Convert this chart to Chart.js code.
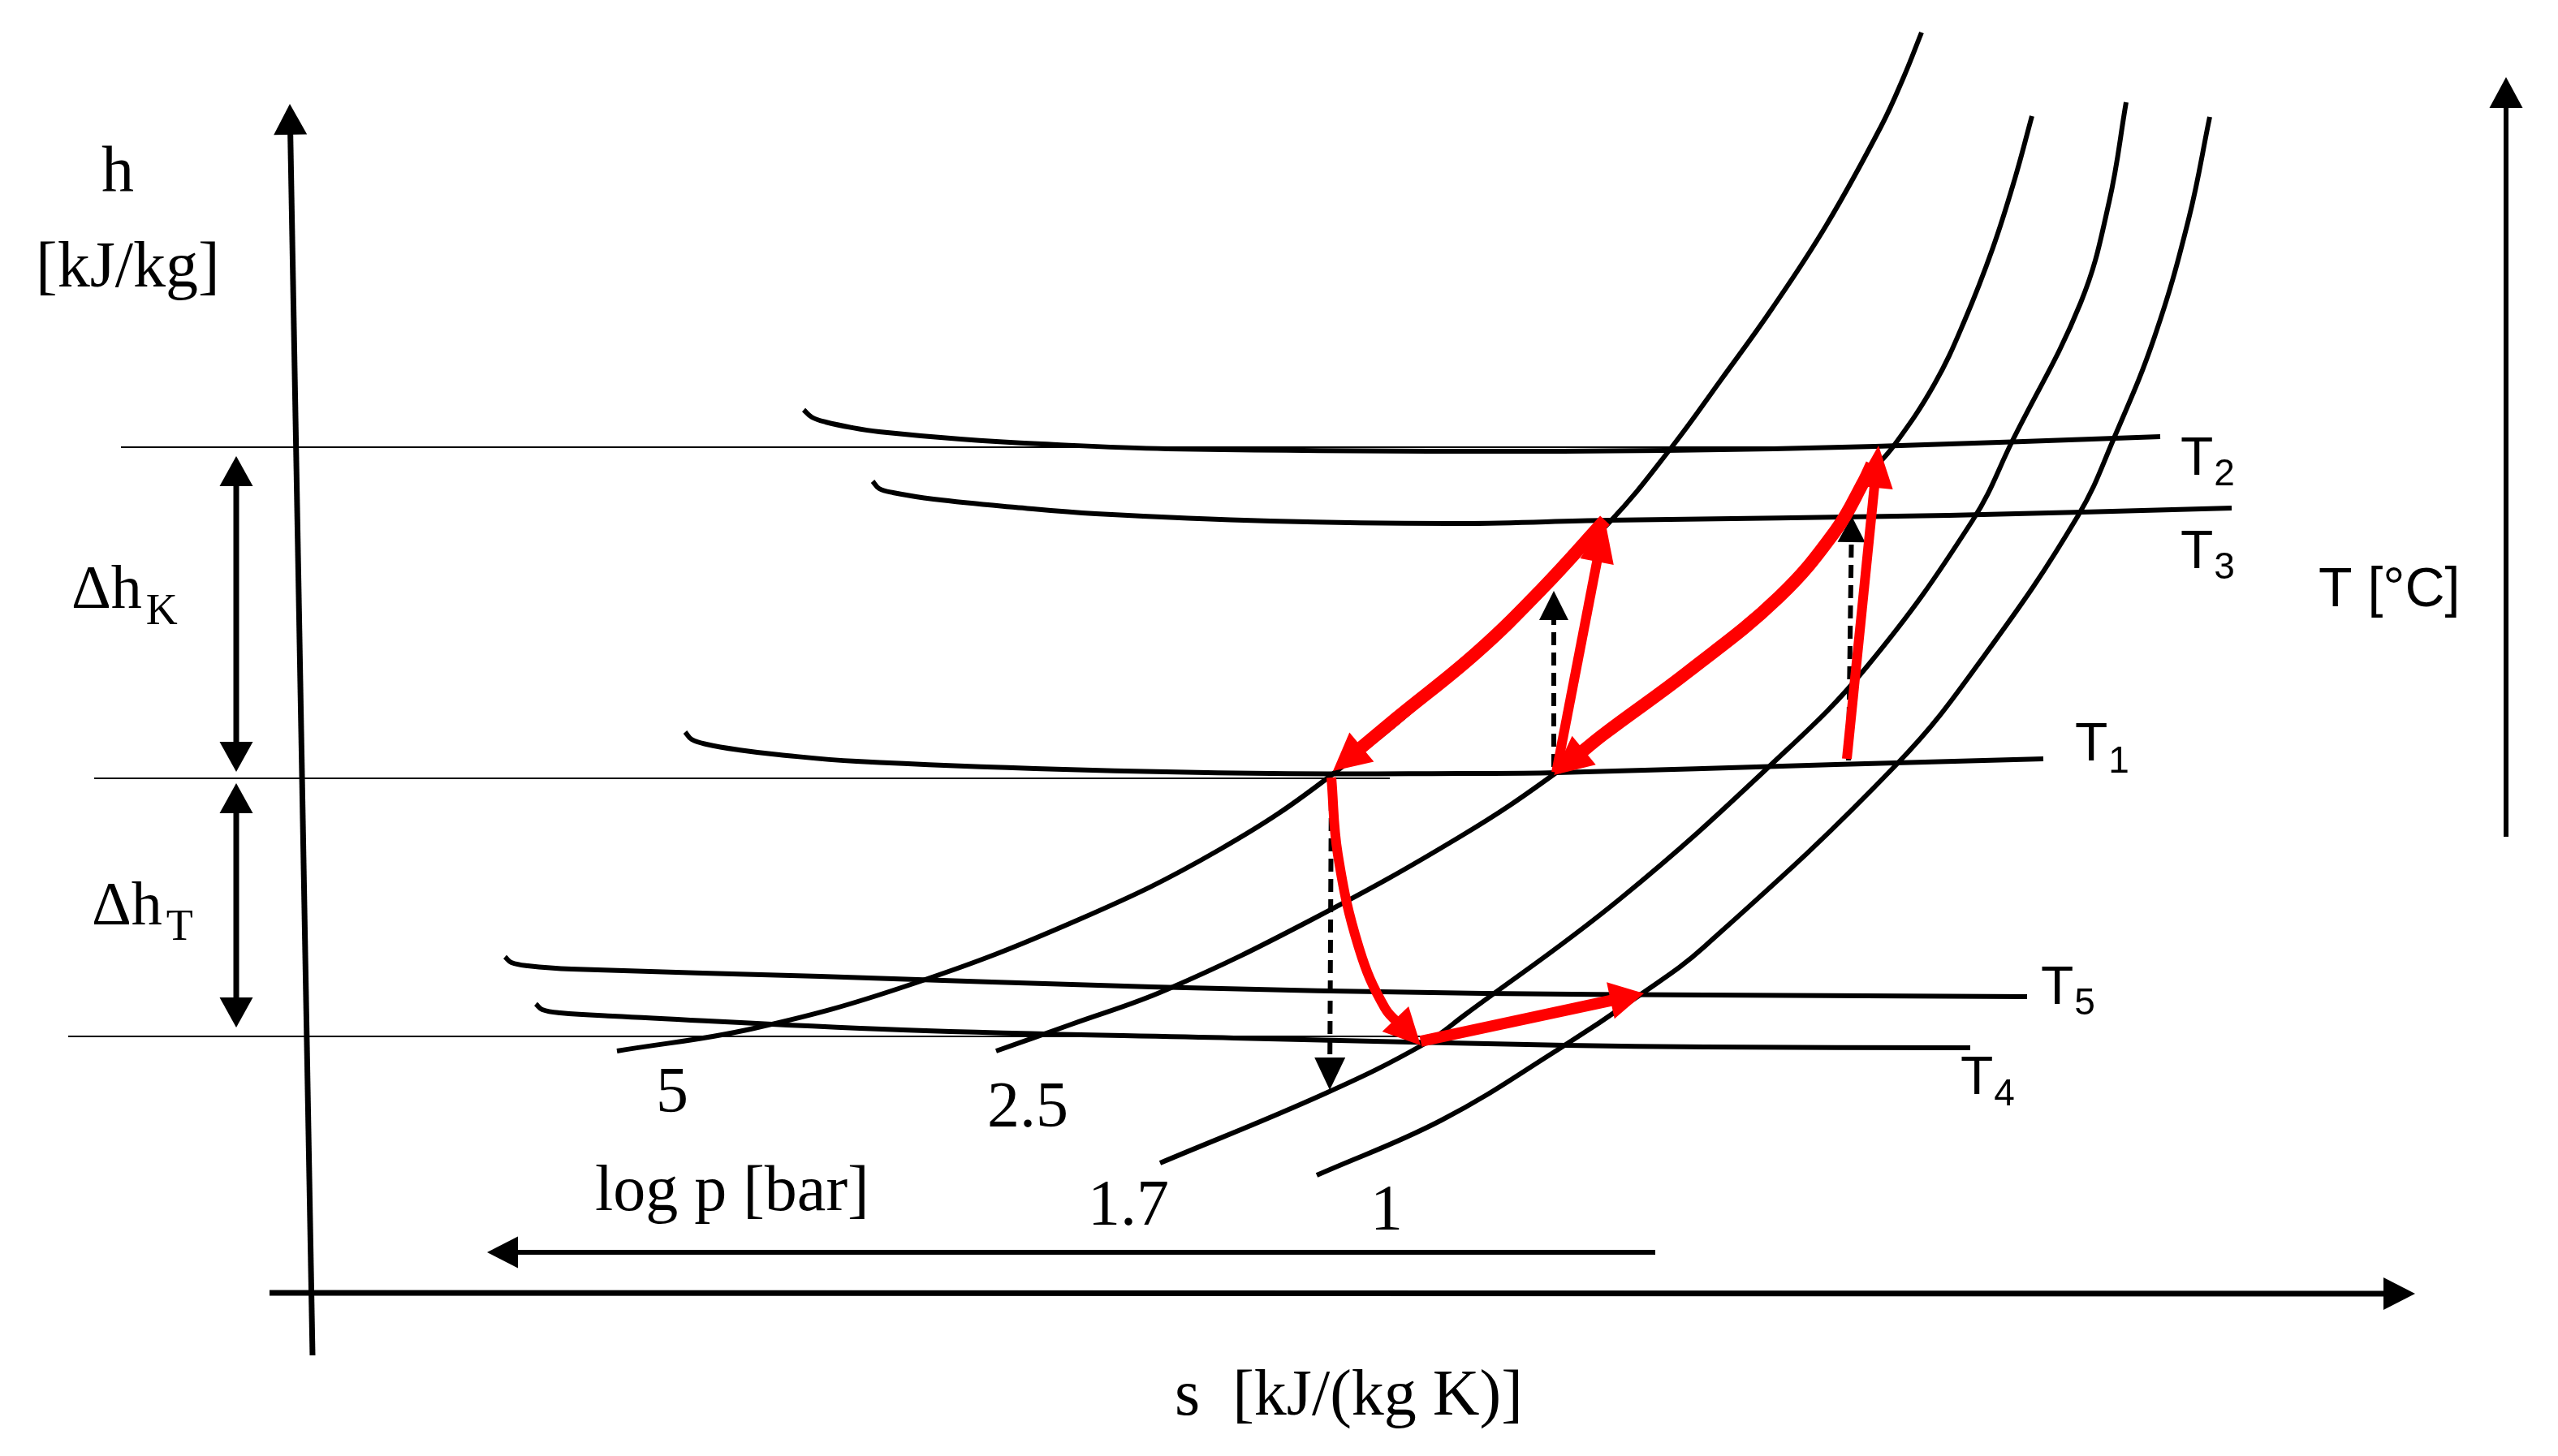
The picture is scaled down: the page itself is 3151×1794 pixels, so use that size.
<!DOCTYPE html>
<html>
<head>
<meta charset="utf-8">
<script src="https://cdn.jsdelivr.net/npm/chart.js@4.4.1/dist/chart.umd.min.js"></script>
<style>
    html, body { margin: 0; padding: 0; background: #fff; overflow: hidden; }
    canvas { display: block; }
</style>
</head>
<body>
<canvas id="hsChart" width="3151" height="1794"></canvas>
<script>
// DIAGRAM DATA - sketch units, s to the right, h counted downwards

// isotherms T1..T5
const isoT2 = [[990, 505], [1000, 514], [1017, 520], [1050, 527], [1083, 532], [1183, 541], [1283, 547], [1438, 553], [1800, 556], [2051, 555], [2310, 550], [2661, 538]];
const isoT3 = [[1075, 593], [1083, 602], [1100, 607], [1150, 615], [1250, 625], [1350, 633], [1565, 642], [1800, 645], [1981, 641], [2401, 635], [2749, 626]];
const isoT1 = [[844, 902], [852, 911], [870, 917], [910, 924], [960, 930], [1055, 938], [1310, 948], [1565, 953], [1800, 953], [1917, 952], [2261, 942], [2517, 935]];
const isoT5 = [[622, 1179], [630, 1186], [650, 1190], [704, 1194], [1010, 1203], [1418, 1216], [1827, 1224], [2100, 1226], [2497, 1228]];
const isoT4 = [[660, 1237], [668, 1244], [690, 1248], [755, 1252], [1112, 1269], [1520, 1279], [1929, 1288], [2100, 1290], [2427, 1291]];

// isobars 5 / 2.5 / 1.7 / 1 bar
const isobar5 = [[760, 1295], [929, 1267], [1119, 1214], [1329, 1133], [1502, 1047], [1644, 952], [1819, 804], [1983, 643], [2060, 550], [2120, 468], [2183, 380], [2250, 277], [2317, 156], [2345, 95], [2367, 40]];
const isobar25 = [[1227, 1295], [1320, 1262], [1438, 1219], [1616, 1133], [1800, 1030], [1917, 952], [2079, 828], [2191, 736], [2261, 654], [2296, 593], [2333, 549], [2383, 473], [2420, 395], [2455, 305], [2482, 220], [2503, 143]];
const isobar17 = [[1429, 1433], [1633, 1347], [1755, 1286], [1805, 1250], [1995, 1108], [2184, 940], [2300, 821], [2430, 641], [2479, 543], [2563, 373], [2598, 249], [2619, 126]];
const isobar1 = [[1622, 1448], [1776, 1380], [1918, 1294], [2020, 1226], [2100, 1166], [2338, 940], [2445, 807], [2560, 635], [2604, 540], [2654, 415], [2696, 270], [2722, 144]];

// enthalpy levels (thin lines)
const hLevel2 = [[149, 551], [2320, 551]];
const hLevel1 = [[116, 959], [1712, 959]];
const hLevel4 = [[84, 1277], [1750, 1277]];

// cycle steps (red)
const stepUp1 = [[2275, 935], [2314, 549]];
const stepDown1 = [[2306, 572], [2296, 593], [2261, 654], [2191, 736], [2079, 828], [1975, 905], [1914, 955]];
const stepUp2 = [[1917, 952], [1977, 641]];
const stepDown2 = [[1977, 641], [1900, 725], [1819, 804], [1720, 885], [1642, 950]];
const stepExpand = [[1640, 958], [1648, 1053], [1674, 1168], [1706, 1242], [1750, 1288]];
const stepHeat = [[1750, 1283], [2025, 1224]];

// dashed isentropes
const dashA = [[1914, 945], [1914, 728]];
const dashB = [[2277, 937], [2281, 636]];
const dashC = [[1640, 958], [1638, 1343]];

// axes and dimension arrows
const hAxis = [[385, 1670], [357, 128]];
const sAxis = [[332, 1593], [2975, 1594]];
const tAxis = [[3087, 1031], [3087, 95]];
const pAxis = [[2039, 1543], [600, 1543]];
const dimK = [[291, 562], [291, 951]];
const dimT = [[291, 965], [291, 1266]];

// texts
const isothermSubs = ['2', '3', '1', '5', '4'];
const isobarLabels = ['5', '2.5', '1.7', '1'];
const deltaSubs = ['K', 'T'];
const axisTitles = ['h', '[kJ/kg]', 's  [kJ/(kg K)]', 'log p [bar]', 'T [°C]'];

// STYLES
const INK = '#000000';
const RED = '#ff0000';
const SERIF = '"Liberation Serif", "Times New Roman", serif';
const SANS = '"Liberation Sans", Arial, sans-serif';

// HELPER FUNCTIONS

/**
 * moves point a back towards b by dist
 */
function pullBack(a, b, dist) {
    const dx = a[0] - b[0], dy = a[1] - b[1];
    const d = Math.hypot(dx, dy) || 1;
    return {x: a[0] - dx / d * dist, y: a[1] - dy / d * dist};
}

/**
 * builds one line dataset, optional arrow head [length, width]
 */
function path(pts, color, width, opts = {}) {
    const data = pts.map(p => ({x: p[0], y: p[1]}));
    const n = pts.length;
    if (opts.head) {
        data[n - 1] = pullBack(pts[n - 1], pts[n - 2], opts.head[0] * 0.6);
        if (opts.both) data[0] = pullBack(pts[0], pts[1], opts.head[0] * 0.6);
    }
    return {
        data: data,
        showLine: true,
        borderColor: color,
        borderWidth: width,
        borderDash: opts.dash || [],
        tension: n > 2 ? 0.4 : 0,
        pointRadius: 0,
        fill: false,
        order: opts.order || 5,
        arrowHead: opts.head || null,
        bothEnds: !!opts.both,
        ends: pts
    };
}

const toPx = (chart, p) => [chart.scales.x.getPixelForValue(p[0]), chart.scales.y.getPixelForValue(p[1])];

function drawHead(ctx, tip, from, head, color) {
    const dx = tip[0] - from[0], dy = tip[1] - from[1];
    const d = Math.hypot(dx, dy) || 1;
    const ux = dx / d, uy = dy / d;
    const bx = tip[0] - ux * head[0], by = tip[1] - uy * head[0];
    const hw = head[1] / 2;
    ctx.beginPath();
    ctx.moveTo(tip[0], tip[1]);
    ctx.lineTo(bx - uy * hw, by + ux * hw);
    ctx.lineTo(bx + uy * hw, by - ux * hw);
    ctx.closePath();
    ctx.fillStyle = color;
    ctx.fill();
}

// where the texts sit: [s, h] of the baseline start, font, subscript
const textMarks = [
    {text: axisTitles[0], at: [125, 235], font: '80px ' + SERIF},
    {text: axisTitles[1], at: [44, 353], font: '80px ' + SERIF},
    {text: 'Δh', at: [88, 749], font: '76px ' + SERIF, sub: deltaSubs[0], subFont: '54px ' + SERIF, gap: 5, drop: 20},
    {text: 'Δh', at: [113, 1139], font: '76px ' + SERIF, sub: deltaSubs[1], subFont: '54px ' + SERIF, gap: 5, drop: 19},
    {text: axisTitles[2], at: [1447, 1743], font: '80px ' + SERIF},
    {text: axisTitles[3], at: [733, 1491], font: '80px ' + SERIF},
    {text: axisTitles[4], at: [2856, 747], font: '68px ' + SANS},
    {text: isobarLabels[0], at: [808, 1370], font: '80px ' + SERIF},
    {text: isobarLabels[1], at: [1216, 1388], font: '80px ' + SERIF},
    {text: isobarLabels[2], at: [1340, 1509], font: '80px ' + SERIF},
    {text: isobarLabels[3], at: [1688, 1515], font: '80px ' + SERIF},
    {text: 'T', at: [2686, 585], font: '66px ' + SANS, sub: isothermSubs[0], subFont: '46px ' + SANS, gap: 1, drop: 13},
    {text: 'T', at: [2686, 700], font: '66px ' + SANS, sub: isothermSubs[1], subFont: '46px ' + SANS, gap: 1, drop: 13},
    {text: 'T', at: [2556, 937], font: '66px ' + SANS, sub: isothermSubs[2], subFont: '46px ' + SANS, gap: 1, drop: 15},
    {text: 'T', at: [2514, 1237], font: '66px ' + SANS, sub: isothermSubs[3], subFont: '46px ' + SANS, gap: 1, drop: 13},
    {text: 'T', at: [2415, 1348], font: '66px ' + SANS, sub: isothermSubs[4], subFont: '46px ' + SANS, gap: 1, drop: 14}
];

// PLUGINS

const arrowHeads = {
    id: 'arrowHeads',
    afterDatasetDraw(chart, args) {
        const ds = chart.data.datasets[args.index];
        if (!ds.arrowHead) return;
        const n = ds.ends.length;
        drawHead(chart.ctx, toPx(chart, ds.ends[n - 1]), toPx(chart, ds.ends[n - 2]), ds.arrowHead, ds.borderColor);
        if (ds.bothEnds) {
            drawHead(chart.ctx, toPx(chart, ds.ends[0]), toPx(chart, ds.ends[1]), ds.arrowHead, ds.borderColor);
        }
    }
};

const labels = {
    id: 'labels',
    afterDraw(chart) {
        const ctx = chart.ctx;
        ctx.save();
        ctx.fillStyle = INK;
        ctx.textAlign = 'left';
        ctx.textBaseline = 'alphabetic';
        textMarks.forEach(function (m) {
            const p = toPx(chart, m.at);
            ctx.font = m.font;
            ctx.fillText(m.text, p[0], p[1]);
            if (m.sub) {
                const w = ctx.measureText(m.text).width;
                ctx.font = m.subFont;
                ctx.fillText(m.sub, p[0] + w + m.gap, p[1] + m.drop);
            }
        });
        ctx.restore();
    }
};

// DATASETS

const datasets = [
    // construction lines
    path(hLevel2, INK, 2, {order: 9}),
    path(hLevel1, INK, 2, {order: 9}),
    path(hLevel4, INK, 2, {order: 9}),
    // isotherms and isobars
    path(isoT2, INK, 6, {order: 7}),
    path(isoT3, INK, 6, {order: 7}),
    path(isoT1, INK, 6, {order: 7}),
    path(isoT5, INK, 6, {order: 7}),
    path(isoT4, INK, 6, {order: 7}),
    path(isobar5, INK, 6, {order: 7}),
    path(isobar25, INK, 6, {order: 7}),
    path(isobar17, INK, 6, {order: 7}),
    path(isobar1, INK, 6, {order: 7}),
    // axes
    path(hAxis, INK, 7, {head: [38, 41], order: 4}),
    path(sAxis, INK, 7, {head: [39, 40], order: 4}),
    path(tAxis, INK, 6, {head: [38, 41], order: 4}),
    path(pAxis, INK, 6, {head: [38, 39], order: 4}),
    path(dimK, INK, 7, {head: [37, 41], both: true, order: 4}),
    path(dimT, INK, 7, {head: [37, 41], both: true, order: 4}),
    // dashed
    path(dashA, INK, 6, {head: [36, 36], dash: [16, 9], order: 3}),
    path(dashB, INK, 6, {head: [32, 34], dash: [16, 9], order: 3}),
    path(dashC, INK, 6, {head: [40, 38], dash: [16, 9], order: 3}),
    // cycle
    path(stepUp1, RED, 12, {head: [52, 46], order: 1}),
    path(stepDown1, RED, 16, {head: [48, 46], order: 1}),
    path(stepUp2, RED, 12, {head: [52, 42], order: 1}),
    path(stepDown2, RED, 16, {head: [46, 47], order: 1}),
    path(stepExpand, RED, 12, {head: [45, 45], order: 1}),
    path(stepHeat, RED, 14, {head: [42, 46], order: 1})
];

// DRAW CHART
const chart = new Chart(document.getElementById('hsChart'), {
    type: 'scatter',
    data: {datasets: datasets},
    options: {
        responsive: false,
        devicePixelRatio: 1,
        animation: false,
        events: [],
        layout: {padding: 0},
        plugins: {
            legend: {display: false},
            tooltip: {enabled: false}
        },
        elements: {
            line: {borderCapStyle: 'butt', borderJoinStyle: 'round'},
            point: {radius: 0}
        },
        scales: {
            x: {type: 'linear', min: 0, max: 3151, display: false},
            y: {type: 'linear', min: 0, max: 1794, reverse: true, display: false}
        }
    },
    plugins: [arrowHeads, labels]
});
</script>
</body>
</html>
